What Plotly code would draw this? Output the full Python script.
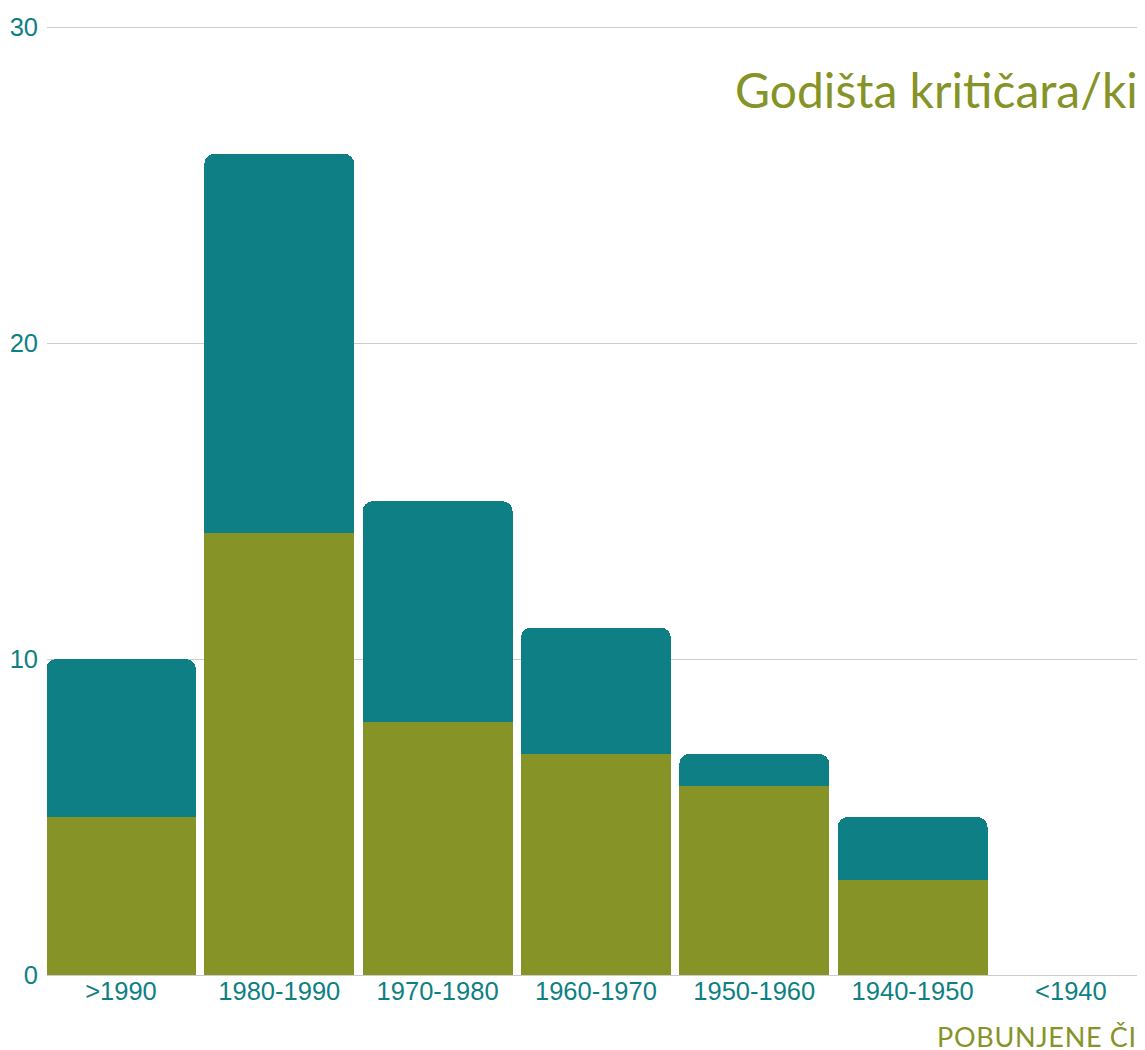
import plotly.graph_objects as go

categories = [">1990", "1980-1990", "1970-1980", "1960-1970", "1950-1960", "1940-1950", "<1940"]
olive_values = [5, 14, 8, 7, 6, 3, 0]
teal_values = [5, 12, 7, 4, 1, 2, 0]
y_ticks = [0, 10, 20, 30]

OLIVE = "#869327"
TEAL = "#0e7f84"

W, H = 1137, 1042
ML, MT, PH = 39, 9.5, 957.5
PW = W - ML
PB = MT + PH  # plot bottom in figure px

fig = go.Figure()
fig.add_trace(go.Bar(x=categories, y=olive_values, marker=dict(color=OLIVE, line=dict(width=0)), showlegend=False))
fig.add_trace(go.Bar(x=categories, y=teal_values, marker=dict(color=TEAL, line=dict(width=0)), showlegend=False))

fig.update_layout(
    width=W, height=H,
    margin=dict(l=ML, r=0, t=MT, b=H - PB, pad=0),
    barmode="stack",
    bargap=0.053,
    barcornerradius=10,
    plot_bgcolor="white", paper_bgcolor="white",
    font=dict(family="Liberation Sans, Arial", color=TEAL, size=25.5),
    xaxis=dict(range=[-0.467, 6.468], showgrid=False, showline=True, linecolor="#cccccc", linewidth=1,
               ticks="", tickfont=dict(size=25.5, color=TEAL), ticklabelstandoff=-7),
    yaxis=dict(range=[0, 30.3], tickvals=y_ticks, showgrid=True, gridcolor="#cccccc", gridwidth=1,
               zeroline=False, ticks="", tickfont=dict(size=25.5, color=TEAL), ticklabelstandoff=8),
    annotations=[
        dict(text="Godišta kritičara/ki", xref="paper", yref="paper", x=(725 - ML) / PW, y=1 - (50.5 - MT) / PH,
             xanchor="left", yanchor="top", showarrow=False,
             font=dict(family="Lato", size=48, color=OLIVE)),
        dict(text="<span style='letter-spacing:0.7px'>POBUNJENE ČITATELJICE</span>", xref="paper", yref="paper",
             x=(926.5 - ML) / PW, y=-(1010 - PB) / PH, xanchor="left", yanchor="top", showarrow=False,
             font=dict(family="Lato", size=27, color=OLIVE)),
    ],
)

fig.write_html("out.html")
